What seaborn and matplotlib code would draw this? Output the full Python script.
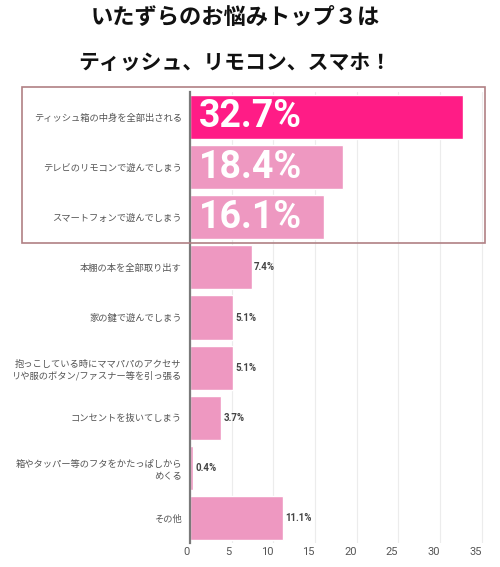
import matplotlib
matplotlib.use("Agg")
import matplotlib.pyplot as plt
import matplotlib.patches as patches
import pandas as pd
import seaborn as sns

# data (percent)
labels = [
    "ティッシュ箱の中身を全部出される",
    "テレビのリモコンで遊んでしまう",
    "スマートフォンで遊んでしまう",
    "本棚の本を全部取り出す",
    "家の鍵で遊んでしまう",
    "抱っこしている時にママパパのアクセサ\nリや服のボタン/ファスナー等を引っ張る",
    "コンセントを抜いてしまう",
    "箱やタッパー等のフタをかたっぱしから\nめくる",
    "その他",
]
values = [32.7, 18.4, 16.1, 7.4, 5.1, 5.1, 3.7, 0.4, 11.1]
bar_colors = ["#FF1C86"] + ["#EE98C1"] * 8
x_ticks = [0, 5, 10, 15, 20, 25, 30, 35]
title_lines = ["いたずらのお悩みトップ３は", "ティッシュ、リモコン、スマホ！"]

df = pd.DataFrame({"label": labels, "value": values})

sns.set_style("white")
plt.rcParams["font.family"] = ["Noto Sans CJK JP", "DejaVu Sans"]

fig = plt.figure(figsize=(5.0, 5.67), dpi=100)
ax = fig.add_axes([0.38, 0.042, 0.60, 0.796])

sns.barplot(data=df, x="value", y="label", hue="label", palette=bar_colors,
            orient="h", width=0.88, legend=False, saturation=1, ax=ax)

ax.set_xlim(0, 36)
ax.set_xticks(x_ticks)
ax.set_xticklabels([str(t) for t in x_ticks], ha="right")
ax.xaxis.grid(True, color="#ECECEC", linewidth=0.8)
ax.set_axisbelow(True)
ax.set_xlabel("")
ax.set_ylabel("")
ax.tick_params(axis="both", length=0, colors="#555555")
ax.tick_params(axis="y", labelsize=6.7, pad=6)
ax.tick_params(axis="x", labelsize=8, pad=3)
for lbl in ax.get_yticklabels():
    lbl.set_linespacing(1.4)
for lbl in ax.get_xticklabels():
    lbl.set_family(["Roboto", "DejaVu Sans"])
for s in ["top", "right", "bottom"]:
    ax.spines[s].set_visible(False)
ax.spines["left"].set_color("#7A7A7A")
ax.spines["left"].set_linewidth(1.6)

# value labels
for i, v in enumerate(values):
    if i < 3:
        ax.text(1.1, i, f"{v}%", color="white", fontsize=27, fontweight="bold",
                va="center", ha="left", family=["Roboto", "DejaVu Sans"])
    else:
        ax.text(v + 0.3, i, f"{v}%", color="#444444", fontsize=7, fontweight="bold",
                va="center", ha="left", family=["Roboto", "DejaVu Sans"])

# highlight box around the top three
fig.add_artist(patches.Rectangle((0.044, 0.571), 0.926, 0.276, transform=fig.transFigure,
                                 fill=False, edgecolor="#B08084", linewidth=1.2))

fig.text(0.47, 0.970, title_lines[0], ha="center", va="center", fontsize=16,
         fontweight="bold", color="#111111")
fig.text(0.47, 0.889, title_lines[1], ha="center", va="center", fontsize=15,
         fontweight="bold", color="#111111")

fig.savefig("out.png", dpi=100)
